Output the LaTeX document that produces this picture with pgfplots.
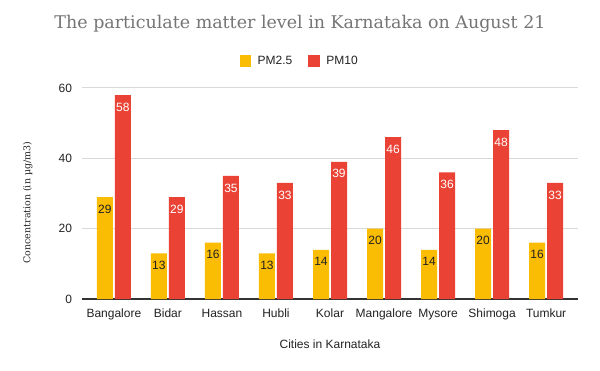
\documentclass[border=0pt]{standalone}
\usepackage{fontspec}
\setmainfont{Liberation Sans}
\newfontfamily\seriffont{DejaVu Serif}
\usepackage{pgfplots}
\pgfplotsset{compat=1.18}
\definecolor{pmy}{HTML}{FBBC04}
\definecolor{pmr}{HTML}{EA4335}
\definecolor{titlegrey}{HTML}{757575}
\definecolor{txt}{HTML}{222222}
\definecolor{gridc}{HTML}{D9D9D9}
\definecolor{basec}{HTML}{333333}
\begin{document}
\begin{tikzpicture}
\begin{axis}[
  scale only axis,
  width=372pt, height=158.25pt,
  ybar=1.5pt, bar width=12pt,
  xmin=-0.59, xmax=8.59, ymin=0, ymax=60,
  xtick={0,...,8},
  xticklabels={Bangalore,Bidar,Hassan,Hubli,Kolar,Mangalore,Mysore,Shimoga,Tumkur},
  ytick={0,20,40,60},
  major tick length=0pt,
  axis x line*=bottom, axis y line*=left,
  y axis line style={draw=none},
  x axis line style={draw=basec, line width=0.9pt},
  ymajorgrids, grid style={draw=gridc, line width=0.75pt},
  /pgf/number format/assume math mode=true,
  tick label style={font=\fontsize{9}{10}\selectfont, text=txt},
  xticklabel style={yshift=-4pt},
  yticklabel style={xshift=-4pt},
  title={The particulate matter level in Karnataka on August 21},
  title style={font=\seriffont\fontsize{13.1}{16}\selectfont, text=titlegrey, at={(axis description cs:0.4395,1.265)}, anchor=center},
  ylabel={Concentration (in µg/m3)},
  ylabel style={font=\seriffont\fontsize{7.1}{9}\selectfont, text=txt, at={(axis description cs:-0.109,0.457)}, anchor=center, rotate=0},
  xlabel={Cities in Karnataka},
  xlabel style={font=\fontsize{9}{10}\selectfont, text=txt, at={(axis description cs:0.5,-0.213)}, anchor=center},
  legend style={draw=none, fill=none, at={(axis description cs:0.4395,1.128)}, anchor=center,
    font=\fontsize{9}{10}\selectfont, text=txt, legend columns=-1,
    /tikz/every odd column/.append style={column sep=3pt},
    /tikz/every even column/.append style={column sep=10pt}},
  legend image code/.code={\fill[#1,draw=none] (0pt,-4.3pt) rectangle (8.6pt,4.3pt);},
  every node near coord/.append style={font=\fontsize{9}{10}\selectfont, anchor=center, yshift=-9pt},
]
\addplot[fill=pmy, draw=none, nodes near coords, every node near coord/.append style={text=txt}] coordinates {
(0,29) (1,13) (2,16) (3,13) (4,14) (5,20) (6,14) (7,20) (8,16)};
\addplot[fill=pmr, draw=none, nodes near coords, every node near coord/.append style={text=white}] coordinates {
(0,58) (1,29) (2,35) (3,33) (4,39) (5,46) (6,36) (7,48) (8,33)};
\legend{PM2.5,PM10}
\end{axis}
\path[use as bounding box] ([shift={(-61.5pt,-54pt)}]current axis.south west) rectangle ++(450pt,278.25pt);
\end{tikzpicture}
\end{document}
